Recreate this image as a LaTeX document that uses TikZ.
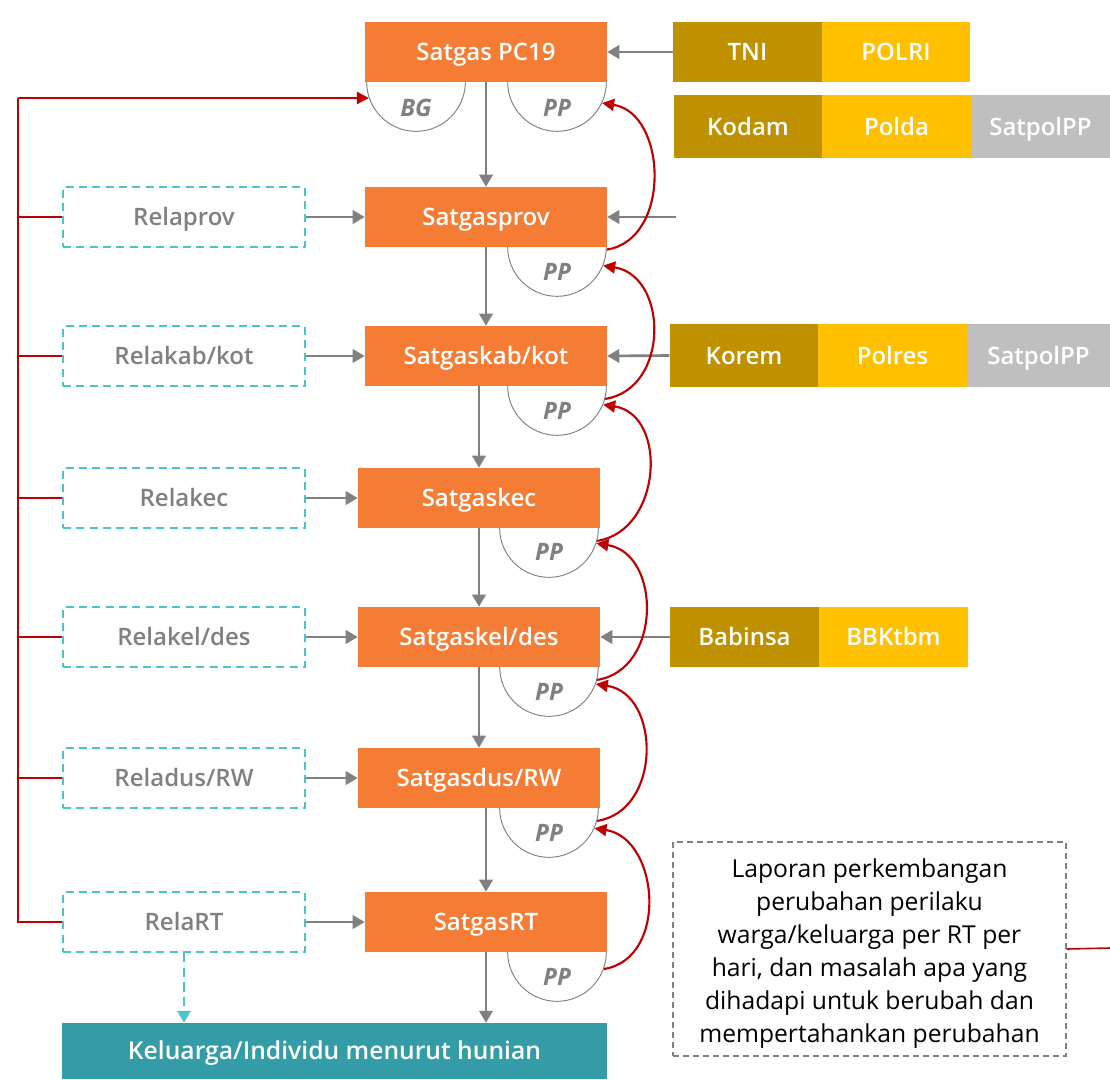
\documentclass[tikz,border=0pt]{standalone}
\usepackage{fontspec}
\setmainfont{Open Sans}
\IfFontExistsTF{Open Sans SemiBold}{\newfontfamily\sembf{Open Sans SemiBold}}{%
  \IfFontExistsTF{Open Sans Semibold}{\newfontfamily\sembf{Open Sans Semibold}}{\newcommand\sembf{\bfseries}}}
\usetikzlibrary{shapes.geometric,arrows.meta,calc}
\definecolor{orng}{HTML}{F47C35}
\definecolor{olive}{HTML}{BF9000}
\definecolor{gold}{HTML}{FFC000}
\definecolor{lgrey}{HTML}{BFBFBF}
\definecolor{tealbox}{HTML}{339CA6}
\definecolor{tealdash}{HTML}{48C4CC}
\definecolor{dred}{HTML}{C00000}
\definecolor{arrgrey}{HTML}{808080}
\tikzset{
  lbl/.style={font=\fontsize{18}{21}\selectfont\sembf, text height=13pt, text depth=0pt},
  satbox/.style={lbl, fill=orng, text=white,
    minimum width=181.5pt, minimum height=45pt, inner sep=0pt},
  relabox/.style={lbl, draw=tealdash, dash pattern=on 6pt off 4pt, line width=1.6pt, text=arrgrey,
    minimum width=181.5pt, minimum height=45pt, inner sep=0pt},
  sidebox/.style={lbl, text=white,
    minimum width=111.5pt, minimum height=45pt, inner sep=0pt},
  ppell/.style={ellipse, draw=arrgrey, line width=0.7pt, fill=white,
    minimum width=74pt, minimum height=74pt, inner sep=0pt},
  pplabel/.style={text=arrgrey, font=\fontsize{18}{20}\selectfont\bfseries\itshape, inner sep=0pt,
    text height=13pt, text depth=0pt},
  garrow/.style={draw=arrgrey, line width=2pt, -{Triangle[length=9pt,width=10pt]}},
  tarrow/.style={draw=tealdash, line width=1.8pt, dash pattern=on 7pt off 4pt, -{Triangle[length=9pt,width=10pt]}},
  rarrow/.style={draw=dred, line width=1.6pt, -{Triangle[length=9pt,width=9pt]}},
  rthick/.style={draw=dred, line width=2pt},
  rthin/.style={draw=dred, line width=0.9pt},
}
\begin{document}
\begin{tikzpicture}[x=0.75pt,y=0.75pt]
\useasboundingbox (0,0) rectangle (1110,-1079);
% PP / BG ellipses (behind boxes)
\node[ppell] (bg) at (416,-82) {};
\node[ppell] (pp1) at (557,-82) {};
\node[ppell] (pp2) at (557,-247) {};
\node[ppell] (pp3) at (557,-386) {};
\node[ppell] (pp4) at (549,-528) {};
\node[ppell] (pp5) at (549,-667) {};
\node[ppell] (pp6) at (549,-808) {};
\node[ppell] (pp7) at (557,-952) {};
% main column
\node[satbox] (pc19) at (486,-52) {Satgas PC19};
\node[satbox] (prov) at (486,-217) {Satgasprov};
\node[satbox] (kab) at (486,-356) {Satgaskab/kot};
\node[satbox] (kec) at (479,-498) {Satgaskec};
\node[satbox] (kel) at (479,-637) {Satgaskel/des};
\node[satbox] (dus) at (479,-778) {Satgasdus/RW};
\node[satbox] (rt) at (486,-922) {SatgasRT};
\node[lbl, font=\fontsize{18.5}{21}\selectfont\sembf, fill=tealbox, text=white,
  minimum width=408.75pt, minimum height=42pt, inner sep=0pt] (klg) at (334.5,-1051) {Keluarga/Individu menurut hunian};
% labels
\node[pplabel] (bgl) at (416,-108) {BG};
\node[pplabel] (ppl1) at (557,-108) {PP};
\node[pplabel] (ppl2) at (557,-272) {PP};
\node[pplabel] (ppl3) at (557,-411) {PP};
\node[pplabel] (ppl4) at (549,-552) {PP};
\node[pplabel] (ppl5) at (549,-692) {PP};
\node[pplabel] (ppl6) at (549,-833) {PP};
\node[pplabel] (ppl7) at (557,-977) {PP};
% rela boxes
\node[relabox] (r1) at (184,-217) {Relaprov};
\node[relabox] (r2) at (184,-356) {Relakab/kot};
\node[relabox] (r3) at (184,-498) {Relakec};
\node[relabox] (r4) at (184,-637) {Relakel/des};
\node[relabox] (r5) at (184,-778) {Reladus/RW};
\node[relabox] (r6) at (184,-922) {RelaRT};
% side boxes
\node[sidebox, fill=olive] (tni) at (747.5,-52) {TNI};
\node[sidebox, fill=gold] (polri) at (896,-52) {POLRI};
\node[sidebox, fill=olive, minimum height=47pt] (kodam) at (748,-126.5) {Kodam};
\node[sidebox, fill=gold, minimum height=47pt] (polda) at (896.5,-126.5) {Polda};
\node[sidebox, fill=lgrey, minimum height=47pt, minimum width=104pt] (satpol1) at (1040.5,-126.5) {SatpolPP};
\node[sidebox, fill=olive, minimum height=47pt] (korem) at (744,-355.5) {Korem};
\node[sidebox, fill=gold, minimum height=47pt] (polres) at (892.5,-355.5) {Polres};
\node[sidebox, fill=lgrey, minimum height=47pt, minimum width=107.5pt] (satpol2) at (1038.5,-355.5) {SatpolPP};
\node[sidebox, fill=olive] (babinsa) at (744.5,-637) {Babinsa};
\node[sidebox, fill=gold] (bbk) at (893.5,-637) {BBKtbm};
% text box
\node[draw=arrgrey, line width=0.9pt, dash pattern=on 4.5pt off 3pt, minimum width=294.75pt, minimum height=160.5pt,
  inner sep=0pt] (txt) at (869.5,-949) {};
\node[align=center, font=\fontsize{18.5}{24.75}\selectfont, inner sep=0pt] (txtl) at (869.5,-954)
  {Laporan perkembangan\\perubahan perilaku\\warga/keluarga per RT per\\hari, dan masalah apa yang\\dihadapi untuk berubah dan\\mempertahankan perubahan};
\coordinate (txtend) at (1110,-948);
\draw[rthin, line width=1.2pt] (txt.east) -- (txtend);
% vertical grey arrows
\draw[garrow] (pc19.south) -- (prov.north);
\draw[garrow] (prov.south) -- (kab.north);
\draw[garrow] (kec.north |- kab.south) -- (kec.north);
\draw[garrow] (kec.south) -- (kel.north);
\draw[garrow] (kel.south) -- (dus.north);
\draw[garrow] (rt.north |- dus.south) -- (rt.north);
\draw[garrow] (rt.south) -- (rt.south |- klg.north);
% rela -> satgas
\draw[garrow] (r1.east) -- (prov.west);
\draw[garrow] (r2.east) -- (kab.west);
\draw[garrow] (r3.east) -- (kec.west);
\draw[garrow] (r4.east) -- (kel.west);
\draw[garrow] (r5.east) -- (dus.west);
\draw[garrow] (r6.east) -- (rt.west);
\draw[tarrow] (r6.south) -- (r6.south |- klg.north);
% side -> satgas
\coordinate (provin) at (676,-217);
\draw[garrow] (tni.west) -- (pc19.east);
\draw[garrow] (provin) -- (prov.east);
\draw[garrow] (korem.west) -- (kab.east);
\draw[garrow] (babinsa.west) -- (kel.east);
% left red feedback line
\coordinate (L) at (18,-98);
\draw[rthick] (r6.west) -| (L);
\draw[rthick, -{Triangle[length=9pt,width=9pt]}] (L) -- (L -| bg.199);
\foreach \r in {r1,r2,r3,r4,r5} {
  \draw[rthin] (\r.west) -- (\r.west -| L);
}
% red curved arrows
\draw[rarrow] (pp2.-3) .. controls ($(pp2.-3)+(65,10)$) and ($(pp1.-25)+(65,-10)$) .. (pp1.-25);
\draw[rarrow] (pp3.-15) .. controls ($(pp3.-15)+(65,10)$) and ($(pp2.-22)+(65,-10)$) .. (pp2.-22);
\draw[rarrow] (pp4.-15) .. controls ($(pp4.-15)+(65,10)$) and ($(pp3.-22)+(65,-10)$) .. (pp3.-22);
\draw[rarrow] (pp5.-15) .. controls ($(pp5.-15)+(65,10)$) and ($(pp4.-18)+(65,-10)$) .. (pp4.-18);
\draw[rarrow] (pp6.-15) .. controls ($(pp6.-15)+(65,10)$) and ($(pp5.-20)+(65,-10)$) .. (pp5.-20);
\draw[rarrow] (pp7.-20) .. controls ($(pp7.-20)+(65,10)$) and ($(pp6.-24)+(65,-10)$) .. (pp6.-24);
\end{tikzpicture}
\end{document}
